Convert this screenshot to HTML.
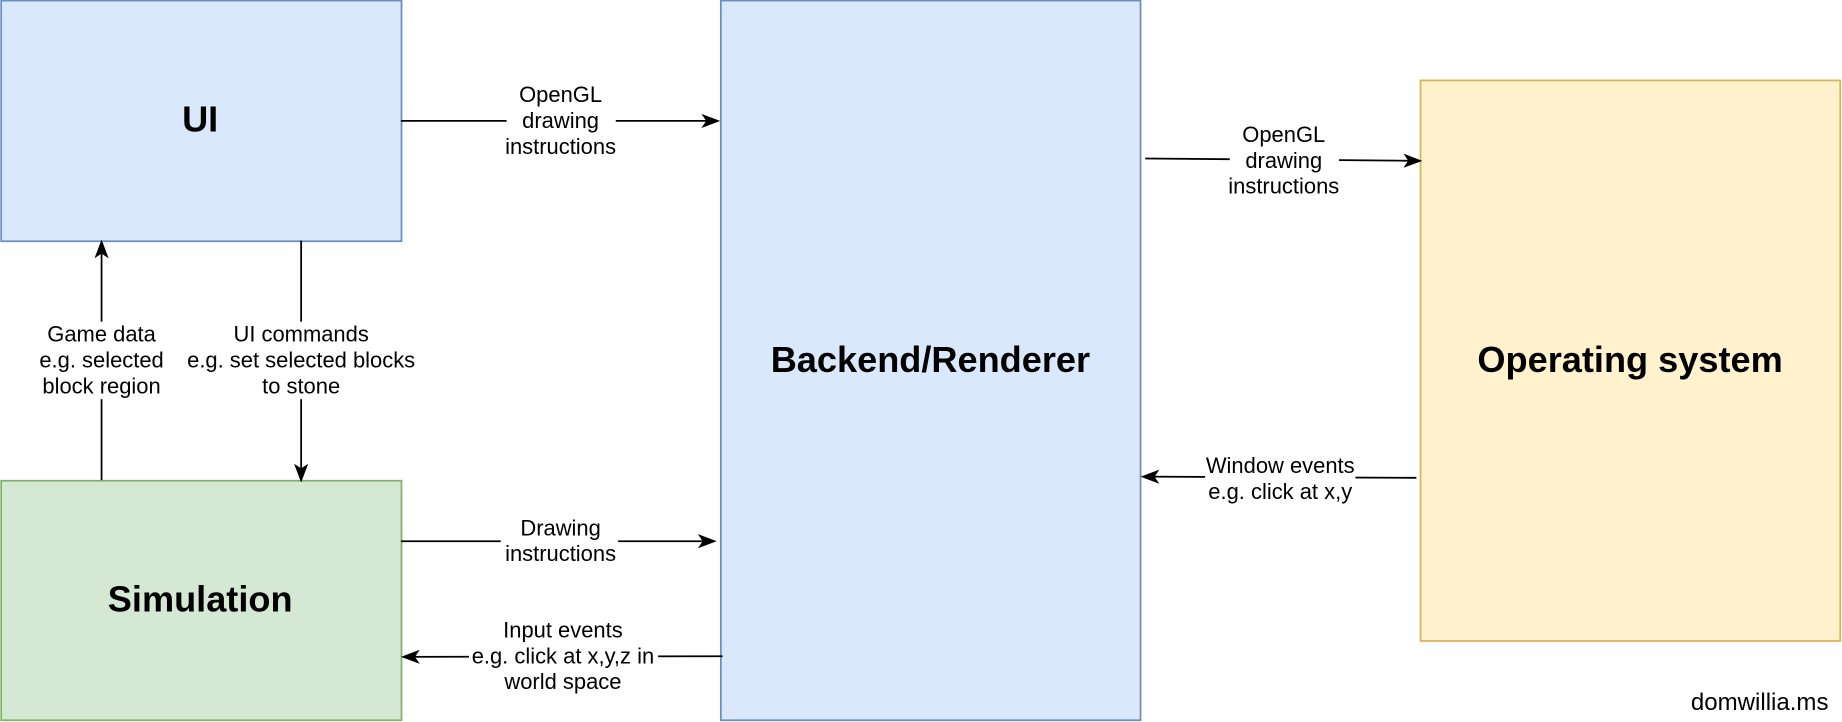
<!DOCTYPE html>
<html><head><meta charset="utf-8"><style>
html,body{margin:0;padding:0;background:#fff;}
svg{display:block;}
text{font-family:"Liberation Sans",Arial,sans-serif;fill:#000;}
.l{font-size:18.7px;text-anchor:middle;}
.b{font-size:30.8px;font-weight:bold;text-anchor:middle;}
</style></head><body>
<svg width="1842" height="722" viewBox="0 0 1568 615" xmlns="http://www.w3.org/2000/svg">
<defs><marker id="a" markerWidth="16" markerHeight="12" refX="14" refY="6" orient="auto" markerUnits="userSpaceOnUse">
<path d="M0,0 L16,6 L0,12 L4,6 Z" fill="#000"/></marker></defs>
<rect x="0.5" y="0.5" width="341" height="205" fill="#dae8fc" stroke="#6c8ebf" stroke-width="1.5"/>
<rect x="0.5" y="409.5" width="341" height="204" fill="#d5e8d4" stroke="#82b366" stroke-width="1.5"/>
<rect x="613.5" y="0.5" width="357.5" height="613" fill="#dae8fc" stroke="#6c8ebf" stroke-width="1.5"/>
<rect x="1209.5" y="68.5" width="357.5" height="477.5" fill="#fff2cc" stroke="#d6b656" stroke-width="1.5"/>
<text class="b" x="170" y="112">UI</text>
<text class="b" x="170" y="521">Simulation</text>
<text class="b" x="792" y="317">Backend/Renderer</text>
<text class="b" x="1388" y="317">Operating system</text>
<g stroke="#000" stroke-width="1.5" fill="none">
<line x1="341" y1="103" x2="611" y2="103" marker-end="url(#a)"/>
<line x1="975" y1="135" x2="1209" y2="137" marker-end="url(#a)"/>
<line x1="341" y1="461" x2="608" y2="461" marker-end="url(#a)"/>
<line x1="615" y1="559" x2="343" y2="559.5" marker-end="url(#a)"/>
<line x1="1206" y1="407" x2="973" y2="406" marker-end="url(#a)"/>
<line x1="86" y1="409" x2="86" y2="206" marker-end="url(#a)"/>
<line x1="256" y1="205" x2="256" y2="409" marker-end="url(#a)"/>
</g>
<g fill="#fff">
<rect x="431" y="70" width="93" height="66"/>
<rect x="1047" y="104" width="93" height="66"/>
<rect x="426" y="439" width="100" height="44"/>
<rect x="399" y="526" width="161" height="66"/>
<rect x="1026" y="386" width="128" height="44"/>
<rect x="30" y="274" width="112" height="66"/>
<rect x="158" y="274" width="196" height="66"/>
</g>
<g class="l">
<text class="l" x="477" y="87">OpenGL</text><text class="l" x="477" y="109">drawing</text><text class="l" x="477" y="131">instructions</text>
<text class="l" x="1093" y="121">OpenGL</text><text class="l" x="1093" y="143">drawing</text><text class="l" x="1093" y="165">instructions</text>
<text class="l" x="477" y="456">Drawing</text><text class="l" x="477" y="478">instructions</text>
<text class="l" x="479" y="543">Input events</text><text class="l" x="479" y="565">e.g. click at x,y,z in</text><text class="l" x="479" y="587">world space</text>
<text class="l" x="1090" y="403">Window events</text><text class="l" x="1090" y="425">e.g. click at x,y</text>
<text class="l" x="86" y="291">Game data</text><text class="l" x="86" y="313">e.g. selected</text><text class="l" x="86" y="335">block region</text>
<text class="l" x="256" y="291">UI commands</text><text class="l" x="256" y="313">e.g. set selected blocks</text><text class="l" x="256" y="335">to stone</text>
</g>
<text x="1557" y="605" style="font-size:20.5px;text-anchor:end">domwillia.ms</text>
</svg>
</body></html>
